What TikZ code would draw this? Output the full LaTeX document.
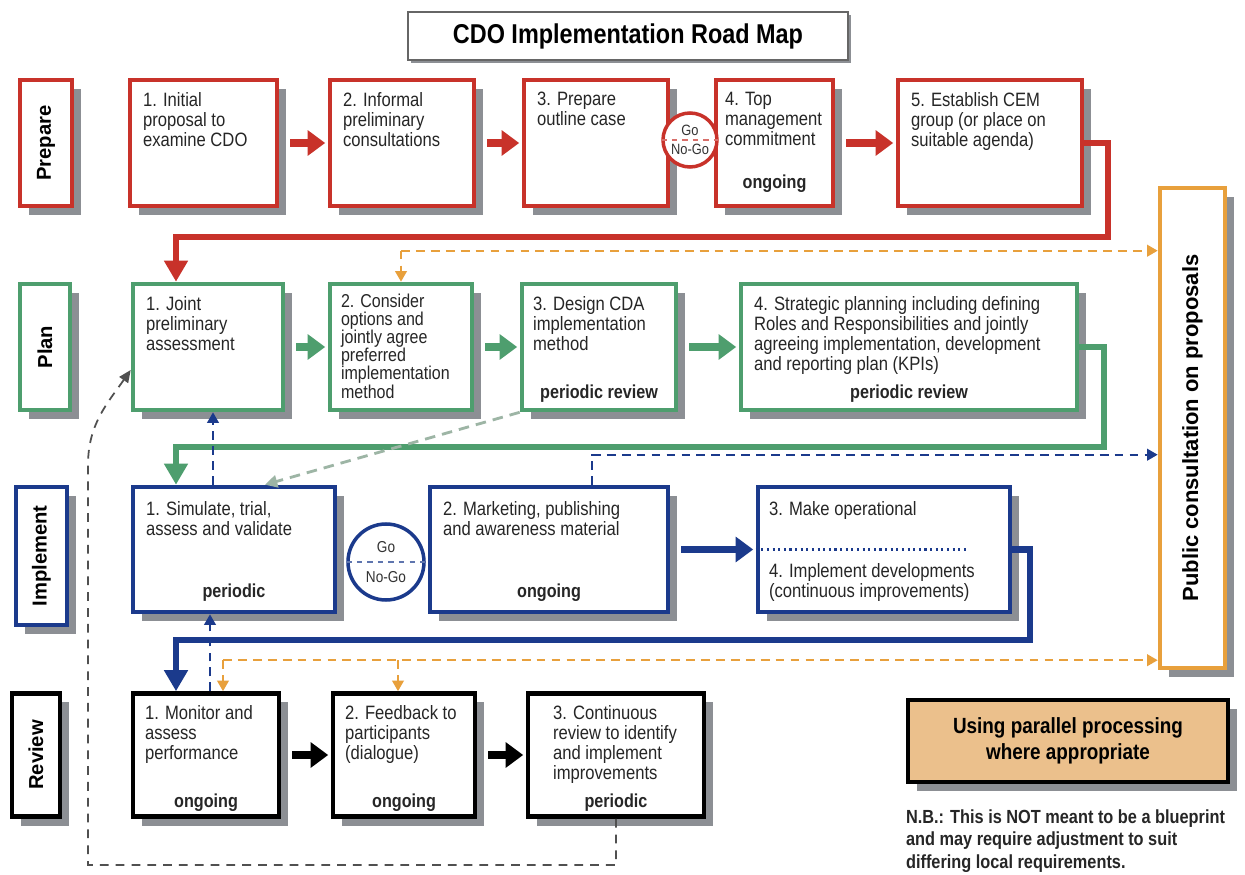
\documentclass[tikz,border=0pt]{standalone}
\usepackage{fontspec}
\setmainfont{Liberation Sans}[FakeStretch=0.86]
\newfontfamily\labelfont{Liberation Sans}
\usetikzlibrary{arrows.meta,shadows}

\definecolor{prepred}{HTML}{C8322A}
\definecolor{plangreen}{HTML}{4E9E6E}
\definecolor{implblue}{HTML}{1B3A8C}
\definecolor{consultorange}{HTML}{E8A03C}
\definecolor{paralleltan}{HTML}{EBC08C}
\definecolor{shadowgray}{HTML}{8C8F94}
\definecolor{hintgreen}{HTML}{9DB5A5}
\definecolor{loopgray}{HTML}{505050}

\begin{document}
\begin{tikzpicture}[
  stage/.style={draw, fill=white, line width=2.6pt, minimum height=2.52cm, inner sep=0pt,
    drop shadow={shadow xshift=0.18cm, shadow yshift=-0.18cm, fill=shadowgray, opacity=1}},
  rowlabel/.style={stage, font=\labelfont\bfseries\fontsize{11.5}{13}\selectfont},
  stagetext/.style={anchor=north west, inner sep=0pt, align=left, text=black!85,
    font=\fontsize{11}{11.4}\selectfont},
  stagetag/.style={inner sep=0pt, text=black!85, font=\bfseries\fontsize{10.7}{12}\selectfont},
  gonogo/.style={circle, draw, fill=white, line width=2pt, inner sep=0pt, align=center,
    text=black!80, font=\fontsize{8.5}{9.5}\selectfont},
  stepflow/.style={line width=4.5pt, -{Triangle[length=10pt,width=14pt]},
    shorten <=0.22cm, shorten >=0.05cm},
  rowlink/.style={line width=3.8pt, -{Triangle[length=12pt,width=13pt]}},
  dashlink/.style={line width=1.3pt, dash pattern=on 5pt off 3.5pt, -{Triangle[length=6pt,width=6.5pt]}},
  hintlink/.style={line width=1.6pt, dash pattern=on 6pt off 4pt, -{Triangle[length=7pt,width=7pt]}},
  looplink/.style={line width=1pt, dash pattern=on 5pt off 4pt, -{Triangle[length=7pt,width=6pt]}}
]
\fill[white] (0,0) rectangle (24.9,-17.5);
\useasboundingbox (0,0) rectangle (24.9,-17.5);

\node[draw=black!60, fill=white, line width=1pt, minimum width=8.8cm, minimum height=0.96cm,
  font=\bfseries\fontsize{15.5}{18}\selectfont,
  drop shadow={shadow xshift=0.06cm, shadow yshift=-0.06cm, fill=shadowgray, opacity=1}]
  (title) at (12.56,-0.72) {CDO Implementation Road Map};

% prepare
\node[rowlabel, draw=prepred, minimum width=1.04cm] (prepare) at (0.92,-2.86) {\rotatebox{90}{Prepare}};
\node[stage, draw=prepred, minimum width=2.94cm] (P1) at (4.07,-2.86) {};
\node[stage, draw=prepred, minimum width=2.88cm] (P2) at (8.04,-2.86) {};
\node[stage, draw=prepred, minimum width=2.88cm] (P3) at (11.92,-2.86) {};
\node[stage, draw=prepred, minimum width=2.34cm] (P4) at (15.49,-2.86) {};
\node[stage, draw=prepred, minimum width=3.68cm] (P5) at (19.8,-2.86) {};
\node[stagetext] (P1t) at ([shift={(0.3,-0.28)}]P1.north west) {1. Initial\\proposal to\\examine CDO};
\node[stagetext] (P2t) at ([shift={(0.3,-0.28)}]P2.north west) {2. Informal\\preliminary\\consultations};
\node[stagetext] (P3t) at ([shift={(0.3,-0.28)}]P3.north west) {3. Prepare\\outline case};
\node[stagetext] (P4t) at ([shift={(0.22,-0.28)}]P4.north west) {4. Top\\management\\commitment};
\node[stagetext] (P5t) at ([shift={(0.3,-0.28)}]P5.north west) {5. Establish CEM\\group (or place on\\suitable agenda)};
\node[stagetag] (P4s) at ([yshift=0.5cm]P4.south) {ongoing};
\node[gonogo, draw=prepred, minimum size=1.08cm] (gate1) at (13.8,-2.8) {Go\\[1pt]No-Go};
\draw[prepred!70, dashed, line width=1pt] (gate1.west) -- (gate1.east);
\draw[prepred, stepflow] (P1) -- (P2);
\draw[prepred, stepflow] (P2) -- (P3);
\draw[prepred, stepflow] (P4) -- (P5);

% plan
\node[rowlabel, draw=plangreen, minimum width=1cm] (plan) at (0.9,-6.94) {\rotatebox{90}{Plan}};
\node[stage, draw=plangreen, minimum width=3cm] (L1) at (4.16,-6.94) {};
\node[stage, draw=plangreen, minimum width=2.84cm] (L2) at (8.02,-6.94) {};
\node[stage, draw=plangreen, minimum width=3.08cm] (L3) at (11.98,-6.94) {};
\node[stage, draw=plangreen, minimum width=6.72cm] (L4) at (18.18,-6.94) {};
\node[stagetext] (L1t) at ([shift={(0.3,-0.28)}]L1.north west) {1. Joint\\preliminary\\assessment};
\node[stagetext, font=\fontsize{10.6}{10.3}\selectfont] (L2t) at ([shift={(0.26,-0.24)}]L2.north west)
  {2. Consider\\options and\\jointly agree\\preferred\\implementation\\method};
\node[stagetext] (L3t) at ([shift={(0.26,-0.28)}]L3.north west) {3. Design CDA\\implementation\\method};
\node[stagetext] (L4t) at ([shift={(0.3,-0.28)}]L4.north west)
  {4. Strategic planning including defining\\Roles and Responsibilities and jointly\\agreeing implementation, development\\and reporting plan (KPIs)};
\node[stagetag] (L3s) at ([yshift=0.38cm]L3.south) {periodic review};
\node[stagetag] (L4s) at ([yshift=0.38cm]L4.south) {periodic review};
\draw[plangreen, stepflow] (L1) -- (L2);
\draw[plangreen, stepflow] (L2) -- (L3);
\draw[plangreen, stepflow] (L3) -- (L4);

% implement
\node[rowlabel, draw=implblue, minimum width=1.02cm, minimum height=2.76cm] (implement) at (0.83,-11.12) {\rotatebox{90}{Implement}};
\node[stage, draw=implblue, minimum width=4.04cm, minimum height=2.5cm] (I1) at (4.68,-10.99) {};
\node[stage, draw=implblue, minimum width=4.76cm, minimum height=2.5cm] (I2) at (10.98,-10.99) {};
\node[stage, draw=implblue, minimum width=5.04cm, minimum height=2.5cm] (I3) at (17.68,-10.99) {};
\node[stagetext] (I1t) at ([shift={(0.3,-0.32)}]I1.north west) {1. Simulate, trial,\\assess and validate};
\node[stagetext] (I2t) at ([shift={(0.3,-0.32)}]I2.north west) {2. Marketing, publishing\\and awareness material};
\node[stagetext] (I3t) at ([shift={(0.26,-0.32)}]I3.north west) {3. Make operational};
\node[stagetext] (I3b) at ([shift={(0.26,-1.56)}]I3.north west) {4. Implement developments\\(continuous improvements)};
\node[stagetag] (I1s) at ([yshift=0.44cm]I1.south) {periodic};
\node[stagetag] (I2s) at ([yshift=0.44cm]I2.south) {ongoing};
\draw[implblue, dotted, line width=1.2pt] (I3.west) -- ([xshift=-0.86cm]I3.east);
\node[gonogo, draw=implblue, minimum size=1.52cm, font=\fontsize{9}{10}\selectfont] (gate2) at (7.72,-11.24) {Go\\[7pt]No-Go};
\draw[implblue!70, dashed, line width=1.2pt] (gate2.west) -- (gate2.east);
\draw[implblue, stepflow] (I2) -- (I3);

% review
\node[rowlabel, draw=black, minimum width=0.96cm, minimum height=2.46cm] (review) at (0.72,-15.1) {\rotatebox{90}{Review}};
\node[stage, draw=black, minimum width=2.92cm, minimum height=2.46cm] (R1) at (4.12,-15.1) {};
\node[stage, draw=black, minimum width=2.84cm, minimum height=2.46cm] (R2) at (8.08,-15.1) {};
\node[stage, draw=black, minimum width=3.52cm, minimum height=2.46cm] (R3) at (12.32,-15.1) {};
\node[stagetext] (R1t) at ([shift={(0.28,-0.28)}]R1.north west) {1. Monitor and\\assess\\performance};
\node[stagetext] (R2t) at ([shift={(0.28,-0.28)}]R2.north west) {2. Feedback to\\participants\\(dialogue)};
\node[stagetext] (R3t) at ([shift={(0.54,-0.28)}]R3.north west) {3. Continuous\\review to identify\\and implement\\improvements};
\node[stagetag] (R1s) at ([yshift=0.32cm]R1.south) {ongoing};
\node[stagetag] (R2s) at ([yshift=0.32cm]R2.south) {ongoing};
\node[stagetag] (R3s) at ([yshift=0.32cm]R3.south) {periodic};
\draw[black, stepflow] (R1) -- (R2);
\draw[black, stepflow] (R2) -- (R3);

% side boxes
\node[stage, draw=consultorange, minimum width=1.3cm, minimum height=9.6cm,
  font=\labelfont\bfseries\fontsize{12.5}{14}\selectfont] (public) at (23.85,-8.56)
  {\rotatebox{90}{Public consultation on proposals}};
\node[stage, draw=black, fill=paralleltan, minimum width=6.4cm, minimum height=1.64cm, align=center,
  font=\bfseries\fontsize{12.5}{14.5}\selectfont] (parallel) at (21.36,-14.82)
  {Using parallel processing\\where appropriate};
\node[anchor=north west, inner sep=0pt, align=left, text=black!85,
  font=\bfseries\fontsize{10.8}{12.8}\selectfont] (note) at ([yshift=-0.5cm]parallel.south west)
  {N.B.: This is NOT meant to be a blueprint\\and may require adjustment to suit\\differing local requirements.};

% row to row
\coordinate (prepturn) at (22.16,-4.74);
\coordinate (planturn) at (22.08,-8.94);
\coordinate (implturn) at (20.6,-12.8);
\draw[prepred, rowlink] (P5.east) -| (prepturn) -| ([xshift=-0.64cm]L1.north);
\draw[plangreen, rowlink] (L4.east) -| (planturn) -| ([xshift=-1.16cm]I1.north);
\draw[implblue, rowlink] (I3.east) -| (implturn) -| ([xshift=-0.6cm]R1.north);

% consultation and feedback
\coordinate (consult1) at ([yshift=0.62cm]L2.north);
\coordinate (consult2) at ([shift={(0.34,0.62)}]R1.north);
\draw[consultorange, dashlink] (consult1) -- (L2.north);
\draw[consultorange, dashlink] (consult1) -- (consult1 -| public.west);
\draw[consultorange, dashlink] (consult2) -- ([xshift=0.34cm]R1.north);
\draw[consultorange, dashlink] ([xshift=-0.12cm]consult2 -| R2.north) -- ([xshift=-0.12cm]R2.north);
\draw[consultorange, dashlink] (consult2) -- (consult2 -| public.west);
\coordinate (market) at ([shift={(0.86,0.6)}]I2.north);
\draw[implblue, dashlink] ([xshift=0.86cm]I2.north) |- (market -| public.west);
\draw[implblue, dashlink] ([xshift=-0.42cm]I1.north) -- ([xshift=-0.42cm]I1.north |- L1.south);
\draw[implblue, dashlink] ([xshift=0.08cm]R1.north) -- ([xshift=0.08cm]R1.north |- I1.south);
\draw[hintgreen, hintlink] (L3.south west) -- ([xshift=0.62cm]I1.north);
\coordinate (loopbottom) at (1.76,-17.3);
\coordinate (loopup) at (1.76,-9.3);
\draw[loopgray, looplink] (R3.south) |- (loopbottom) -- (loopup)
  to[out=90,in=235] ([yshift=-0.46cm]L1.west);
\end{tikzpicture}
\end{document}
